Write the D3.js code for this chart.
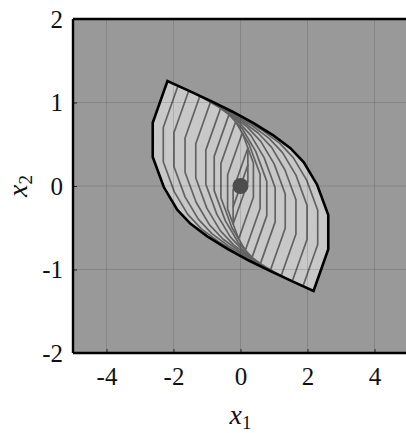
<!DOCTYPE html>
<html>
<head>
<meta charset="utf-8">
<script src="https://cdn.jsdelivr.net/npm/d3@7"></script>
<style>
  html, body { margin: 0; padding: 0; background: #fff; }
  svg { display: block; }
  svg text { font-family: "Liberation Serif", "DejaVu Serif", serif !important; fill: #111; }
</style>
</head>
<body>
<svg id="chart" width="406" height="433"></svg>
<script>
// Half-edge generators of the nested sets K_k = g_1[-1,1] + ... + g_k[-1,1]
const genX = [0.22, 0.00, -0.165, -0.20, -0.20, -0.25, -0.30, -0.32, -0.33, -0.32, -0.315];
const genY = [0.25, 0.205, 0.18, 0.135, 0.085, 0.075, 0.075, 0.07, 0.065, 0.06, 0.0575];

// Equilibrium point
const eqX = [0];
const eqY = [0];

// Axis ticks and grid
const xTicks = [-4, -2, 0, 2, 4];
const yTicks = [-2, -1, 0, 1, 2];
const xDomain = [-5, 5];
const yDomain = [-2, 2];

const svg = d3.select("#chart");

const x = d3.scaleLinear().domain(xDomain).range([73, 408]);
const y = d3.scaleLinear().domain(yDomain).range([353, 19]);

// Vertex list of the zonotope built from the first k generators
function zonotope(k) {
  const gens = [];
  for (let i = 0; i < k; i++) {
    let a = genX[i], b = genY[i];
    if (b < 0 || (b === 0 && a < 0)) { a = -a; b = -b; }
    gens.push([a, b, Math.atan2(b, a)]);
  }
  gens.sort((p, q) => p[2] - q[2]);
  let cx = -d3.sum(gens, g => g[0]);
  let cy = -d3.sum(gens, g => g[1]);
  const pts = [[cx, cy]];
  for (const g of gens) { cx += 2 * g[0]; cy += 2 * g[1]; pts.push([cx, cy]); }
  for (const g of gens) { cx -= 2 * g[0]; cy -= 2 * g[1]; pts.push([cx, cy]); }
  return pts;
}

const line = d3.line().x(d => x(d[0])).y(d => y(d[1]));

svg.append("defs").append("clipPath").attr("id", "plotclip")
  .append("rect")
  .attr("x", x(xDomain[0])).attr("y", y(yDomain[1]))
  .attr("width", x(xDomain[1]) - x(xDomain[0]))
  .attr("height", y(yDomain[0]) - y(yDomain[1]));

// Plot background
svg.append("rect")
  .attr("x", x(xDomain[0])).attr("y", y(yDomain[1]))
  .attr("width", x(xDomain[1]) - x(xDomain[0]))
  .attr("height", y(yDomain[0]) - y(yDomain[1]))
  .attr("fill", "#999999");

const plot = svg.append("g").attr("clip-path", "url(#plotclip)");

const N = genX.length;
const outer = zonotope(N);

// Filled outer set
plot.append("path")
  .attr("d", line(outer) + "Z")
  .attr("fill", "#c8c8c8")
  .attr("stroke", "none");

// Inner nested sets
for (let k = 1; k < N; k++) {
  plot.append("path")
    .attr("d", line(zonotope(k)) + "Z")
    .attr("fill", "none")
    .attr("stroke", "#626262")
    .attr("stroke-width", 1.7)
    .attr("stroke-linejoin", "round");
}

// Grid on top
const grid = plot.append("g").attr("stroke", "#000").attr("stroke-opacity", 0.13).attr("stroke-width", 1);
xTicks.forEach(t => grid.append("line")
  .attr("x1", x(t)).attr("x2", x(t)).attr("y1", y(yDomain[0])).attr("y2", y(yDomain[1])));
yTicks.forEach(t => grid.append("line")
  .attr("x1", x(xDomain[0])).attr("x2", x(xDomain[1])).attr("y1", y(t)).attr("y2", y(t)));

// Outer boundary
plot.append("path")
  .attr("d", line(outer) + "Z")
  .attr("fill", "none")
  .attr("stroke", "#000")
  .attr("stroke-width", 2.6)
  .attr("stroke-linejoin", "miter");

// Equilibrium marker
plot.selectAll("circle.eq").data(eqX.map((v, i) => [v, eqY[i]])).enter()
  .append("circle")
  .attr("cx", d => x(d[0])).attr("cy", d => y(d[1]))
  .attr("r", 8)
  .attr("fill", "#4d4d4d");

// Axes
const fmt = d => String(d).replace("\u2212", "-");
const xAxis = d3.axisBottom(x).tickValues(xTicks).tickSize(-4).tickPadding(14).tickFormat(fmt);
const yAxis = d3.axisLeft(y).tickValues(yTicks).tickSize(-4).tickPadding(10).tickFormat(fmt);

const gx = svg.append("g").attr("transform", `translate(0,${y(yDomain[0])})`).call(xAxis);
const gy = svg.append("g").attr("transform", `translate(${x(xDomain[0])},0)`).call(yAxis);
[gx, gy].forEach(g => {
  g.attr("font-family", null).attr("font-size", null);
  g.select(".domain").remove();
  g.selectAll(".tick line").attr("stroke", "#222").attr("stroke-width", 1);
  g.selectAll(".tick text").attr("font-size", 25).attr("fill", "#111");
});
gx.selectAll(".tick text").attr("dy", "0.71em");

// Box
const box = svg.append("g").attr("stroke", "#000").attr("stroke-width", 2.4).attr("fill", "none");
box.append("line").attr("x1", x(xDomain[0])).attr("x2", x(xDomain[1]))
  .attr("y1", y(yDomain[0])).attr("y2", y(yDomain[0]));
box.append("line").attr("x1", x(xDomain[0])).attr("x2", x(xDomain[1]))
  .attr("y1", y(yDomain[1])).attr("y2", y(yDomain[1]));
box.append("line").attr("x1", x(xDomain[0])).attr("x2", x(xDomain[0]))
  .attr("y1", y(yDomain[0])).attr("y2", y(yDomain[1]));
box.append("line").attr("x1", x(xDomain[1])).attr("x2", x(xDomain[1]))
  .attr("y1", y(yDomain[0])).attr("y2", y(yDomain[1]));

// Axis titles
const xl = svg.append("text")
  .attr("x", x(0)).attr("y", 424)
  .attr("text-anchor", "middle")
  .attr("font-size", 28);
xl.append("tspan").attr("font-style", "italic").text("x");
xl.append("tspan").attr("font-size", 19).attr("dy", 5).text("1");

const yl = svg.append("text")
  .attr("transform", `translate(27,${y(0)}) rotate(-90)`)
  .attr("text-anchor", "middle")
  .attr("font-size", 28);
yl.append("tspan").attr("font-style", "italic").text("x");
yl.append("tspan").attr("font-size", 19).attr("dy", 5).text("2");
</script>
</body>
</html>
